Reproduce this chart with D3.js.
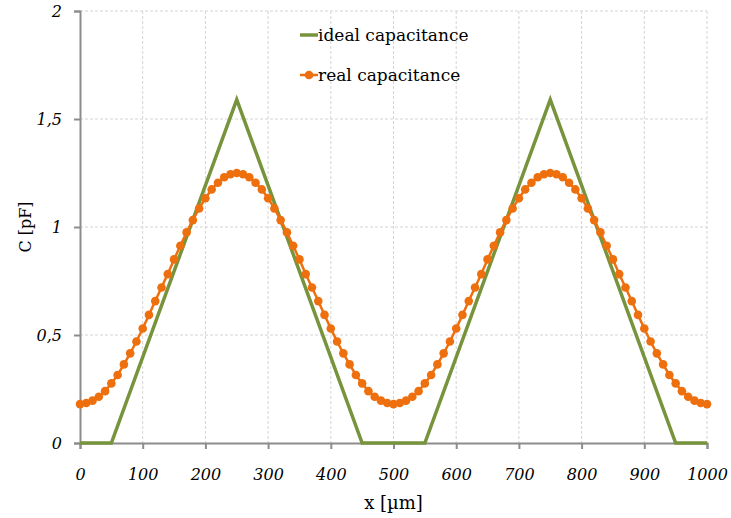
<!DOCTYPE html>
<html>
<head>
<meta charset="utf-8">
<script src="https://cdn.jsdelivr.net/npm/d3@7"></script>
<style>
  body { margin: 0; background: #fff; }
  .grid line { stroke: #d4d4d4; stroke-dasharray: 3,2; stroke-width: 1; }
</style>
</head>
<body>
<div id="chart"></div>
<script>
// posizioni x in µm
const idealX = [0, 50, 250, 450, 550, 750, 950, 1000];
const idealC = [0, 0, 1.59, 0, 0, 1.59, 0, 0];

const realX = [
  0, 10, 20, 30, 40, 50, 60, 70, 80, 90,
  100, 110, 120, 130, 140, 150, 160, 170, 180, 190,
  200, 210, 220, 230, 240, 250, 260, 270, 280, 290,
  300, 310, 320, 330, 340, 350, 360, 370, 380, 390,
  400, 410, 420, 430, 440, 450, 460, 470, 480, 490,
  500, 510, 520, 530, 540, 550, 560, 570, 580, 590,
  600, 610, 620, 630, 640, 650, 660, 670, 680, 690,
  700, 710, 720, 730, 740, 750, 760, 770, 780, 790,
  800, 810, 820, 830, 840, 850, 860, 870, 880, 890,
  900, 910, 920, 930, 940, 950, 960, 970, 980, 990, 1000
];
const realC = [
  0.18, 0.185, 0.196, 0.214, 0.24, 0.276, 0.315, 0.364, 0.415, 0.47,
  0.53, 0.593, 0.657, 0.72, 0.782, 0.85, 0.913, 0.975, 1.032, 1.086,
  1.133, 1.174, 1.205, 1.23, 1.244, 1.25, 1.244, 1.23, 1.205, 1.174,
  1.133, 1.086, 1.032, 0.975, 0.913, 0.85, 0.782, 0.72, 0.657, 0.593,
  0.53, 0.47, 0.415, 0.364, 0.315, 0.276, 0.24, 0.214, 0.196, 0.185,
  0.18, 0.185, 0.196, 0.214, 0.24, 0.276, 0.315, 0.364, 0.415, 0.47,
  0.53, 0.593, 0.657, 0.72, 0.782, 0.85, 0.913, 0.975, 1.032, 1.086,
  1.133, 1.174, 1.205, 1.23, 1.244, 1.25, 1.244, 1.23, 1.205, 1.174,
  1.133, 1.086, 1.032, 0.975, 0.913, 0.85, 0.782, 0.72, 0.657, 0.593,
  0.53, 0.47, 0.415, 0.364, 0.315, 0.276, 0.24, 0.214, 0.196, 0.185, 0.18
];

const xTicks = [0, 100, 200, 300, 400, 500, 600, 700, 800, 900, 1000];
const yTicks = [0, 0.5, 1, 1.5, 2];
const seriesNames = ['ideal capacitance', 'real capacitance'];

const SERIF = "'DejaVu Serif', 'Liberation Serif', 'Times New Roman', serif";

const width = 731, height = 518;
const margin = { top: 11, right: 24, bottom: 75, left: 80 };

const svg = d3.select('#chart').append('svg')
  .attr('width', width)
  .attr('height', height);

const x = d3.scaleLinear().domain([0, 1000]).range([margin.left, width - margin.right]);
const y = d3.scaleLinear().domain([0, 2]).range([height - margin.bottom, margin.top]);

const loc = d3.formatLocale({ decimal: ',', thousands: '.', grouping: [3], currency: ['', ''] });
const fmt = loc.format('~g');

// griglia
svg.append('g').attr('class', 'grid')
  .selectAll('line').data(xTicks.filter(d => d > 0)).join('line')
  .attr('x1', d => x(d)).attr('x2', d => x(d))
  .attr('y1', y(2)).attr('y2', y(0));
svg.append('g').attr('class', 'grid')
  .selectAll('line').data(yTicks.filter(d => d > 0)).join('line')
  .attr('x1', x(0)).attr('x2', x(1000))
  .attr('y1', d => y(d)).attr('y2', d => y(d));

// assi
const xAxis = svg.append('g')
  .attr('transform', `translate(0,${y(0)})`)
  .call(d3.axisBottom(x).tickValues(xTicks).tickFormat(d3.format('d')).tickSize(6).tickPadding(20));
const yAxis = svg.append('g')
  .attr('transform', `translate(${x(0)},0)`)
  .call(d3.axisLeft(y).tickValues(yTicks).tickFormat(fmt).tickSize(6).tickPadding(12));
[xAxis, yAxis].forEach(a => {
  a.select('.domain').attr('stroke', '#8c8c8c').attr('stroke-width', 2);
  a.selectAll('.tick line').attr('stroke', '#8c8c8c').attr('stroke-width', 2);
  a.selectAll('.tick text')
    .style('font-family', SERIF)
    .style('font-style', 'italic')
    .style('font-size', '16px')
    .attr('fill', '#000');
});

// serie ideale
const ideal = idealX.map((d, i) => [d, idealC[i]]);
svg.append('path')
  .datum(ideal)
  .attr('fill', 'none')
  .attr('stroke', '#77933c')
  .attr('stroke-width', 3.5)
  .attr('d', d3.line().x(d => x(d[0])).y(d => y(d[1])));

// serie reale
const real = realX.map((d, i) => [d, realC[i]]);
svg.append('path')
  .datum(real)
  .attr('fill', 'none')
  .attr('stroke', '#ee6f0d')
  .attr('stroke-width', 2.5)
  .attr('d', d3.line().x(d => x(d[0])).y(d => y(d[1])));
svg.append('g').selectAll('circle').data(real).join('circle')
  .attr('cx', d => x(d[0]))
  .attr('cy', d => y(d[1]))
  .attr('r', 4.3)
  .attr('fill', '#ee6f0d');

// titoli assi
svg.append('text')
  .style('font-family', SERIF)
  .attr('x', (x(0) + x(1000)) / 2)
  .attr('y', 509)
  .attr('text-anchor', 'middle')
  .attr('font-size', 18)
  .text('x [µm]');
svg.append('text')
  .style('font-family', SERIF)
  .attr('transform', `translate(31,${y(1)}) rotate(-90)`)
  .attr('text-anchor', 'middle')
  .attr('font-size', 16)
  .text('C [pF]');

// legenda
const legend = svg.append('g').attr('transform', 'translate(300,35)');
const item = legend.selectAll('g').data(seriesNames).join('g')
  .attr('transform', (d, i) => `translate(0,${i * 40})`);
item.append('line')
  .attr('x1', 0).attr('x2', 18).attr('y1', 0).attr('y2', 0)
  .attr('stroke', (d, i) => i ? '#ee6f0d' : '#77933c')
  .attr('stroke-width', (d, i) => i ? 2.5 : 3.5);
item.filter((d, i) => i === 1).append('circle')
  .attr('cx', 9).attr('cy', 0).attr('r', 4.3).attr('fill', '#ee6f0d');
item.append('text')
  .style('font-family', SERIF)
  .attr('x', 18).attr('y', 6)
  .attr('font-size', 17)
  .text(d => d);
</script>
</body>
</html>
